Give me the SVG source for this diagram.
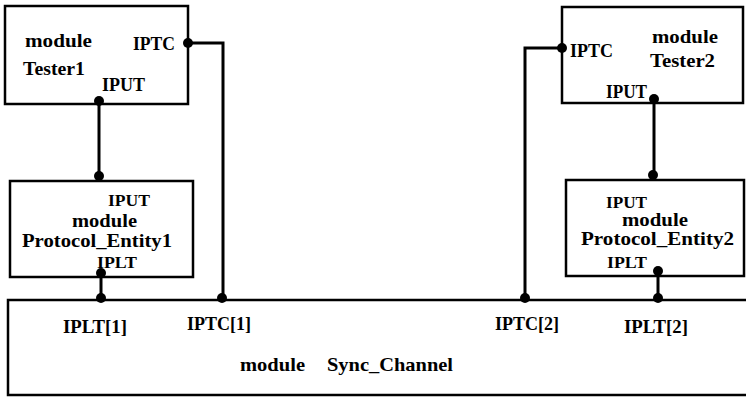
<svg xmlns="http://www.w3.org/2000/svg" width="746" height="397" viewBox="0 0 746 397" font-family="'Liberation Serif', 'DejaVu Serif', serif">
<style>
.box{fill:#fff;stroke:#000;stroke-width:2.5}
.wire{fill:none;stroke:#000;stroke-width:3}
.dot{fill:#000}
text{font-size:19px;font-weight:bold;fill:#000}
.sm{font-size:17px}
</style>
<rect width="746" height="397" fill="#fff"/>
<g id="Tester1">
<rect class="box" x="5" y="6" width="183" height="98"/>
<text x="25" y="47" textLength="67" lengthAdjust="spacingAndGlyphs">module</text>
<text x="23" y="75" textLength="62" lengthAdjust="spacingAndGlyphs">Tester1</text>
<text x="133" y="50" textLength="42" lengthAdjust="spacingAndGlyphs">IPTC</text>
<text x="102" y="91" textLength="43" lengthAdjust="spacingAndGlyphs">IPUT</text>
</g>
<g id="Protocol_Entity1">
<rect class="box" x="10" y="181" width="183" height="96"/>
<text class="sm" x="108" y="206" textLength="42" lengthAdjust="spacingAndGlyphs">IPUT</text>
<text x="72" y="227" textLength="65" lengthAdjust="spacingAndGlyphs">module</text>
<text x="22" y="247" textLength="150" lengthAdjust="spacingAndGlyphs">Protocol_Entity1</text>
<text class="sm" x="97" y="268" textLength="40" lengthAdjust="spacingAndGlyphs">IPLT</text>
</g>
<g id="Tester2">
<rect class="box" x="562" y="7" width="181" height="96"/>
<text x="570" y="57" textLength="43" lengthAdjust="spacingAndGlyphs">IPTC</text>
<text x="652" y="43" textLength="66" lengthAdjust="spacingAndGlyphs">module</text>
<text x="650" y="67" textLength="65" lengthAdjust="spacingAndGlyphs">Tester2</text>
<text x="606" y="98" textLength="41" lengthAdjust="spacingAndGlyphs">IPUT</text>
</g>
<g id="Protocol_Entity2">
<rect class="box" x="566" y="180" width="178" height="96"/>
<text class="sm" x="606" y="208" textLength="41" lengthAdjust="spacingAndGlyphs">IPUT</text>
<text x="622" y="226" textLength="66" lengthAdjust="spacingAndGlyphs">module</text>
<text x="581" y="245" textLength="153" lengthAdjust="spacingAndGlyphs">Protocol_Entity2</text>
<text class="sm" x="607" y="268" textLength="40" lengthAdjust="spacingAndGlyphs">IPLT</text>
</g>
<g id="Sync_Channel">
<rect class="box" x="8" y="300" width="760" height="95"/>
<text x="63" y="333" textLength="64" lengthAdjust="spacingAndGlyphs">IPLT[1]</text>
<text x="187" y="330" textLength="64" lengthAdjust="spacingAndGlyphs">IPTC[1]</text>
<text x="495" y="330" textLength="64" lengthAdjust="spacingAndGlyphs">IPTC[2]</text>
<text x="624" y="333" textLength="64" lengthAdjust="spacingAndGlyphs">IPLT[2]</text>
<text x="240" y="371" textLength="65" lengthAdjust="spacingAndGlyphs">module</text>
<text x="327" y="371" textLength="126" lengthAdjust="spacingAndGlyphs">Sync_Channel</text>
</g>
<g id="connectors">
<polyline class="wire" points="188,43 223,43 223,299"/>
<line class="wire" x1="99" y1="101" x2="99" y2="176"/>
<line class="wire" x1="101" y1="273" x2="101" y2="299"/>
<polyline class="wire" points="562,48 525,48 525,299"/>
<line class="wire" x1="654" y1="99" x2="654" y2="175"/>
<line class="wire" x1="658" y1="271" x2="658" y2="299"/>
<circle class="dot" cx="188" cy="43" r="5"/>
<circle class="dot" cx="99" cy="101" r="5"/>
<circle class="dot" cx="99" cy="176" r="5"/>
<circle class="dot" cx="101" cy="273" r="5"/>
<circle class="dot" cx="101" cy="298" r="5"/>
<circle class="dot" cx="222" cy="298" r="5"/>
<circle class="dot" cx="562" cy="48" r="5"/>
<circle class="dot" cx="654" cy="99" r="5"/>
<circle class="dot" cx="653" cy="175" r="5"/>
<circle class="dot" cx="658" cy="271" r="5"/>
<circle class="dot" cx="525" cy="298" r="5"/>
<circle class="dot" cx="658" cy="298" r="5"/>
</g>
</svg>
